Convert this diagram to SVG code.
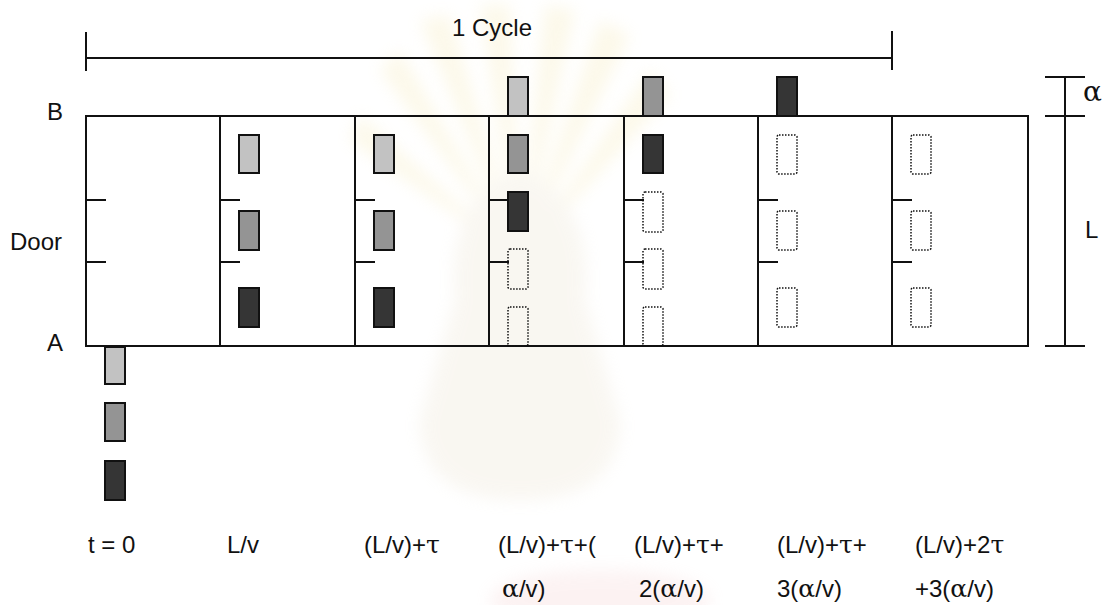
<svg xmlns="http://www.w3.org/2000/svg" width="1104" height="605" viewBox="0 0 1104 605">
  <style>
    .frame { fill: none; stroke: #111; stroke-width: 2; }
    .tick { stroke: #111; stroke-width: 2; }
    .veh { stroke: #111; stroke-width: 2; }
    .light { fill: #c2c2c2; }
    .mid { fill: #949494; }
    .dark { fill: #353535; }
    .ghost { fill: none; stroke: #111; stroke-width: 1.5; stroke-dasharray: 1.5 1.5; }
    .lbl { font-family: "Liberation Sans", Arial, sans-serif; font-size: 24px; fill: #111; }
    .gr { font-family: "DejaVu Serif", "Liberation Serif", serif; font-size: 25px; }
  </style>
  <defs>
    <filter id="soft" x="-20%" y="-20%" width="140%" height="140%">
      <feGaussianBlur stdDeviation="8"/>
    </filter>
  </defs>

  <rect width="1104" height="605" fill="#ffffff"/>

  <!-- faint seal behind the drawing -->
  <g id="watermark" filter="url(#soft)" opacity="0.22">
    <g fill="#f3e3a0">
      <polygon points="520,260 420,20 450,15"/>
      <polygon points="520,260 480,5 510,5"/>
      <polygon points="520,260 545,5 575,10"/>
      <polygon points="520,260 600,20 630,35"/>
      <polygon points="520,260 650,70 670,95"/>
      <polygon points="520,260 380,70 400,50"/>
      <polygon points="520,260 350,140 360,115"/>
    </g>
    <path d="M455,300 Q445,200 520,170 Q595,200 585,300 L620,420 Q620,500 520,500 Q420,500 420,420 Z" fill="#e6dcc4"/>
    <ellipse cx="600" cy="600" rx="110" ry="30" fill="#f3c8c8"/>
  </g>

  <!-- dimensions: cycle span, alpha and L -->
  <g id="connectors">
    <line class="tick" x1="86" y1="58" x2="892" y2="58"/>
    <line class="tick" x1="86" y1="32" x2="86" y2="71"/>
    <line class="tick" x1="892" y1="31" x2="892" y2="70"/>
    <line class="tick" x1="1065" y1="77" x2="1065" y2="346"/>
    <line class="tick" x1="1045" y1="77" x2="1085" y2="77"/>
    <line class="tick" x1="1045" y1="116" x2="1085" y2="116"/>
    <line class="tick" x1="1045" y1="346" x2="1085" y2="346"/>
  </g>

  <!-- track outline with the column dividers -->
  <g id="track">
    <rect class="frame" x="86" y="116" width="942" height="230"/>
    <line class="tick" x1="220" y1="116" x2="220" y2="346"/>
    <line class="tick" x1="355" y1="116" x2="355" y2="346"/>
    <line class="tick" x1="489" y1="116" x2="489" y2="346"/>
    <line class="tick" x1="624" y1="116" x2="624" y2="346"/>
    <line class="tick" x1="758" y1="116" x2="758" y2="346"/>
    <line class="tick" x1="892" y1="116" x2="892" y2="346"/>
  </g>

  <!-- door marks in every column -->
  <g id="doors">
    <line class="tick" x1="86" y1="200" x2="106" y2="200"/>
    <line class="tick" x1="86" y1="262" x2="106" y2="262"/>
    <line class="tick" x1="220" y1="200" x2="240" y2="200"/>
    <line class="tick" x1="220" y1="262" x2="240" y2="262"/>
    <line class="tick" x1="355" y1="200" x2="375" y2="200"/>
    <line class="tick" x1="355" y1="262" x2="375" y2="262"/>
    <line class="tick" x1="489" y1="200" x2="509" y2="200"/>
    <line class="tick" x1="489" y1="262" x2="509" y2="262"/>
    <line class="tick" x1="624" y1="200" x2="644" y2="200"/>
    <line class="tick" x1="624" y1="262" x2="644" y2="262"/>
    <line class="tick" x1="758" y1="200" x2="778" y2="200"/>
    <line class="tick" x1="758" y1="262" x2="778" y2="262"/>
    <line class="tick" x1="892" y1="200" x2="912" y2="200"/>
    <line class="tick" x1="892" y1="262" x2="912" y2="262"/>
  </g>

  <!-- t = 0 -->
  <g id="col-t0">
    <rect class="veh light" x="105" y="347" width="20" height="37"/>
    <rect class="veh mid" x="105" y="403" width="20" height="38"/>
    <rect class="veh dark" x="105" y="461" width="20" height="39"/>
  </g>

  <!-- L/v -->
  <g id="col-lv">
    <rect class="veh light" x="239" y="135" width="20" height="38"/>
    <rect class="veh mid" x="239" y="211" width="20" height="39"/>
    <rect class="veh dark" x="239" y="288" width="20" height="39"/>
  </g>

  <!-- (L/v)+tau -->
  <g id="col-tau">
    <rect class="veh light" x="374" y="135" width="20" height="38"/>
    <rect class="veh mid" x="374" y="211" width="20" height="39"/>
    <rect class="veh dark" x="374" y="288" width="20" height="39"/>
  </g>

  <!-- (L/v)+tau+(alpha/v) -->
  <g id="col-a1">
    <rect class="veh light" x="508" y="77" width="20" height="39"/>
    <rect class="veh mid" x="508" y="135" width="20" height="38"/>
    <rect class="veh dark" x="508" y="192" width="20" height="39"/>
    <rect class="ghost" x="508" y="249" width="20" height="40" rx="2"/>
    <rect class="ghost" x="508" y="307" width="20" height="39" rx="2"/>
  </g>

  <!-- (L/v)+tau+2(alpha/v) -->
  <g id="col-a2">
    <rect class="veh mid" x="643" y="77" width="20" height="39"/>
    <rect class="veh dark" x="643" y="135" width="20" height="38"/>
    <rect class="ghost" x="643" y="192" width="20" height="40" rx="2"/>
    <rect class="ghost" x="643" y="249" width="20" height="40" rx="2"/>
    <rect class="ghost" x="643" y="307" width="20" height="39" rx="2"/>
  </g>

  <!-- (L/v)+tau+3(alpha/v) -->
  <g id="col-a3">
    <rect class="veh dark" x="777" y="77" width="20" height="39"/>
    <rect class="ghost" x="777" y="135" width="20" height="39" rx="2"/>
    <rect class="ghost" x="777" y="211" width="20" height="39" rx="2"/>
    <rect class="ghost" x="777" y="288" width="20" height="39" rx="2"/>
  </g>

  <!-- (L/v)+2tau+3(alpha/v) -->
  <g id="col-a4">
    <rect class="ghost" x="911" y="135" width="20" height="39" rx="2"/>
    <rect class="ghost" x="911" y="211" width="20" height="39" rx="2"/>
    <rect class="ghost" x="911" y="288" width="20" height="39" rx="2"/>
  </g>

  <!-- labels -->
  <g id="labels">
    <text class="lbl" x="452" y="36">1 Cycle</text>
    <text class="lbl" x="47" y="120">B</text>
    <text class="lbl" x="10" y="250">Door</text>
    <text class="lbl" x="47" y="351">A</text>
    <text class="lbl" x="1085" y="238">L</text>
    <text class="lbl gr" x="1083" y="101" style="font-size:28px">α</text>

    <text class="lbl" x="88" y="553">t = 0</text>
    <text class="lbl" x="227" y="553">L/v</text>
    <text class="lbl" x="364" y="553">(L/v)+<tspan class="gr">τ</tspan></text>
    <text class="lbl" x="498" y="553">(L/v)+<tspan class="gr">τ</tspan>+(</text>
    <text class="lbl" x="634" y="553">(L/v)+<tspan class="gr">τ</tspan>+</text>
    <text class="lbl" x="777" y="553">(L/v)+<tspan class="gr">τ</tspan>+</text>
    <text class="lbl" x="915" y="553">(L/v)+2<tspan class="gr">τ</tspan></text>

    <text class="lbl" x="502" y="597"><tspan class="gr">α</tspan>/v)</text>
    <text class="lbl" x="639" y="597">2(<tspan class="gr">α</tspan>/v)</text>
    <text class="lbl" x="777" y="597">3(<tspan class="gr">α</tspan>/v)</text>
    <text class="lbl" x="915" y="597">+3(<tspan class="gr">α</tspan>/v)</text>
  </g>
</svg>
